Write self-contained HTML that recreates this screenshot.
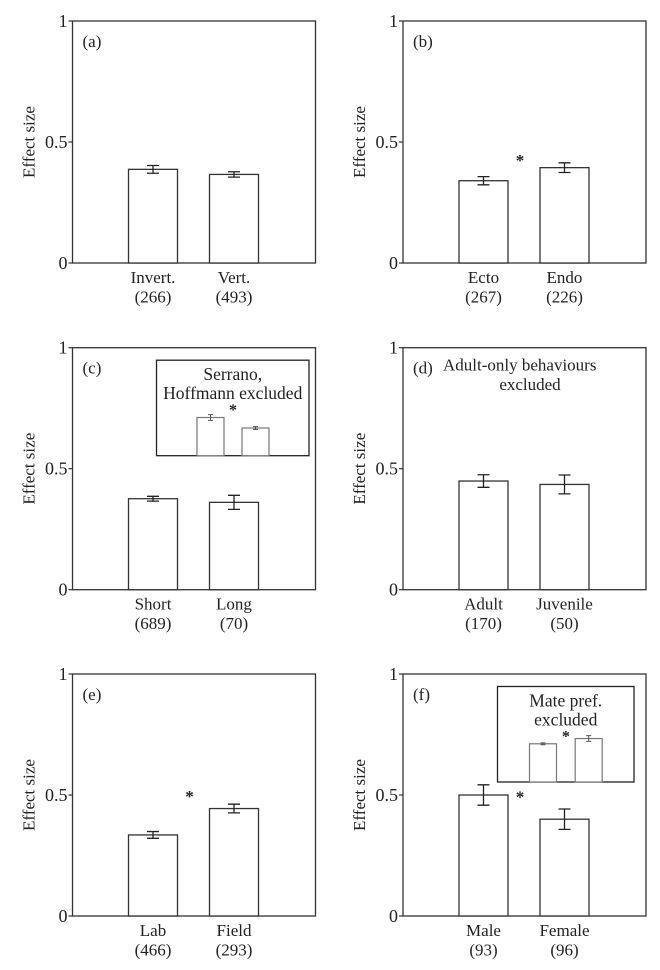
<!DOCTYPE html>
<html><head><meta charset="utf-8"><style>
html,body{margin:0;padding:0;background:#fff;}
svg{display:block;font-family:"Liberation Serif",serif;}
</style></head><body>
<svg id="chart" width="660" height="970" viewBox="0 0 660 970" xmlns="http://www.w3.org/2000/svg"></svg>
<script>
const panelLetters = ['(a)','(b)','(c)','(d)','(e)','(f)'];
const categories = [['Invert.','Vert.'],['Ecto','Endo'],['Short','Long'],['Adult','Juvenile'],['Lab','Field'],['Male','Female']];
const sampleSizes = [['(266)','(493)'],['(267)','(226)'],['(689)','(70)'],['(170)','(50)'],['(466)','(293)'],['(93)','(96)']];
const meanValues = [[0.387,0.366],[0.340,0.394],[0.376,0.361],[0.449,0.435],[0.335,0.444],[0.500,0.400]];
const errorValues = [[0.016,0.011],[0.017,0.020],[0.010,0.029],[0.026,0.039],[0.014,0.018],[0.042,0.042]];
const starLevels = [null,0.438,null,null,0.508,0.506];
const yTicks = [0,0.5,1];
const yTickLabels = ['0','0.5','1'];
const insetC = [0.40,0.29];
const insetCErr = [0.03,0.015];
const insetF = [0.40,0.455];
const insetFErr = [0.01,0.03];

const svg = document.getElementById('chart');
const NS = 'http://www.w3.org/2000/svg';
function mk(tag, attrs, parent){
  const e = document.createElementNS(NS, tag);
  for (const k in attrs) e.setAttribute(k, attrs[k]);
  (parent||svg).appendChild(e);
  return e;
}
const colLeft = [72.5, 403];
const rowTop = [21, 347.7, 674];
const W = 243, H = 242;

for (let p = 0; p < 6; p++) {
  const L = colLeft[p%2], T = rowTop[Math.floor(p/2)], B = T + H;
  const g = mk('g', {});
  
  
  const y = v => B - v * H;
  const xBar = i => L + 56 + i * 81;
  const f = mk('rect', {x:L, y:T, width:W, height:H, fill:'none', stroke:'#333', 'stroke-width':1.3}, g);
  
  
  yTicks.forEach((t, i) => {
    const tk = mk('line', {x1:L-4, x2:L, y1:y(t), y2:y(t), stroke:'#333', 'stroke-width':1.2}, g);
    
    
    const tl = mk('text', {x:L-5, y:y(t)+6, 'text-anchor':'end', 'font-size':18, fill:'#222'}, g);
    tl.textContent = yTickLabels[i];
    
    
  });
  const yt = mk('text', {x:0, y:0, 'text-anchor':'middle', 'font-size':17, fill:'#222', transform:`translate(${L-38},${T+H/2}) rotate(-90)`}, g);
  yt.textContent = 'Effect size';
  
  
  const pl = mk('text', {x:L+10, y:T+26, 'font-size':17, fill:'#222'}, g);
  pl.textContent = panelLetters[p];
  
  
  for (let i = 0; i < 2; i++) {
    const v = meanValues[p][i], e = errorValues[p][i], x0 = xBar(i), cx = x0 + 24.5;
    const r = mk('rect', {x:x0, y:y(v), width:49, height:B-y(v), fill:'#fff', stroke:'#333', 'stroke-width':1.3}, g);
    
    
    const eb = mk('path', {d:`M${cx-6},${y(v+e)}H${cx+6}M${cx},${y(v+e)}V${y(v-e)}M${cx-6},${y(v-e)}H${cx+6}`, stroke:'#222', 'stroke-width':1.3, fill:'none'}, g);
    
    
    const c1 = mk('text', {x:cx, y:B+20, 'text-anchor':'middle', 'font-size':17, fill:'#222'}, g);
    c1.textContent = categories[p][i];
    
    
    const c2 = mk('text', {x:cx, y:B+39.5, 'text-anchor':'middle', 'font-size':17, fill:'#222'}, g);
    c2.textContent = sampleSizes[p][i];
    
    
  }
  if (starLevels[p] !== null) {
    const st = mk('text', {x:L+117, y:y(starLevels[p])+9, 'text-anchor':'middle', 'font-size':17, 'font-weight':'bold', fill:'#222'}, g);
    st.textContent = '*';
    
    
  }
  if (p === 3) {
    const t1 = mk('text', {x:L+40, y:T+23, 'font-size':17, fill:'#222'}, g);
    t1.textContent = 'Adult-only behaviours';
    
    
    const t2 = mk('text', {x:L+127, y:T+42.5, 'text-anchor':'middle', 'font-size':17, fill:'#222'}, g);
    t2.textContent = 'excluded';
    
    
  }
  if (p === 2 || p === 5) {
    const isC = p === 2;
    const iv = isC ? insetC : insetF, ie = isC ? insetCErr : insetFErr;
    const iL = isC ? L+84 : L+94.5, iT = T+12.5;
    const iW = isC ? 152.5 : 136.5, iH = 95.5, iB = iT + iH;
    const ig = mk('g', {}, g);
    
    
    mk('rect', {x:iL, y:iT, width:iW, height:iH, fill:'#fff', stroke:'#222', 'stroke-width':1.3}, ig);
    const lines = isC ? ['Serrano,','Hoffmann excluded'] : ['Mate pref.','excluded'];
    lines.forEach((s, k) => {
      const t = mk('text', {x:iL+iW/2, y:iT+20+k*19, 'text-anchor':'middle', 'font-size':17.5, fill:'#222'}, ig);
      t.textContent = s;
      
      
    });
    const bx = isC ? [iL+40.5, iL+85.5] : [iL+32, iL+77.7];
    const bw = 27;
    const yy = v => iB - v * iH;
    for (let i = 0; i < 2; i++) {
      const r = mk('rect', {x:bx[i], y:yy(iv[i]), width:bw, height:iB-yy(iv[i]), fill:'#fff', stroke:'#777', 'stroke-width':1.2}, ig);
      
      
      const cx = bx[i] + bw/2;
      const eb = mk('path', {d:`M${cx-2.5},${yy(iv[i]+ie[i])}H${cx+2.5}M${cx},${yy(iv[i]+ie[i])}V${yy(iv[i]-ie[i])}M${cx-2.5},${yy(iv[i]-ie[i])}H${cx+2.5}`, stroke:'#555', 'stroke-width':1, fill:'none'}, ig);
      
      
    }
    const st = mk('text', {x:(bx[0]+bw+bx[1])/2, y:iT+55, 'text-anchor':'middle', 'font-size':16, 'font-weight':'bold', fill:'#222'}, ig);
    st.textContent = '*';
    
    
  }
}
</script>
</body></html>
